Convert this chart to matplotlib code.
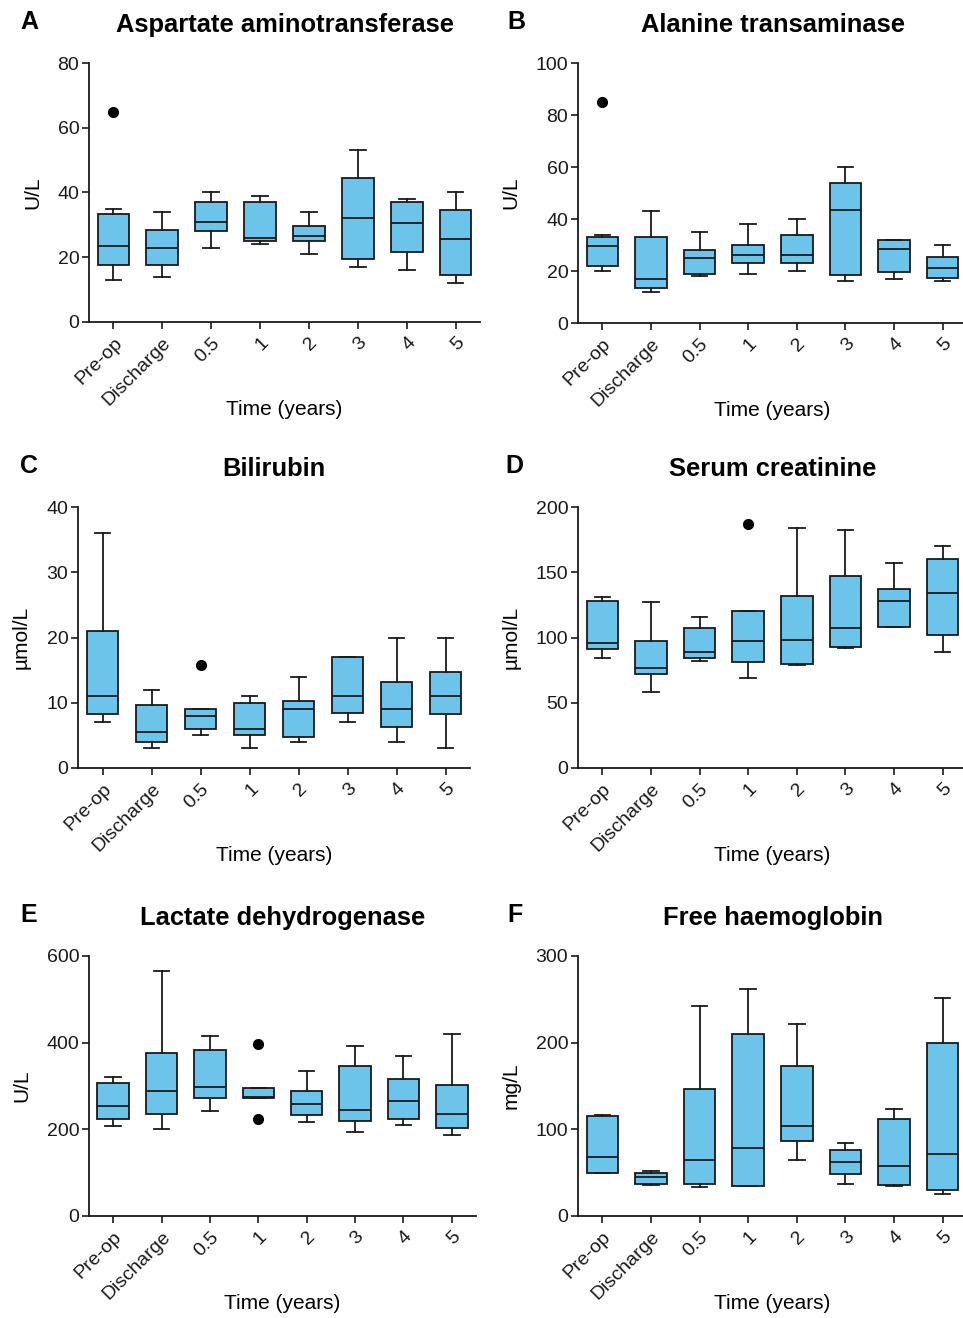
import matplotlib
matplotlib.use("Agg")
import matplotlib.pyplot as plt

plt.rcParams['font.family'] = ['Liberation Sans', 'DejaVu Sans']

categories = ["Pre-op", "Discharge", "0.5", "1", "2", "3", "4", "5"]

# box stats per panel: (whisker low, q1, median, q3, whisker high)
ast_stats = [(13, 17.5, 23.5, 33.5, 35), (14, 17.5, 23, 28.5, 34), (23, 28, 31, 37, 40),
             (24, 25, 26, 37, 39), (21, 25, 26.5, 29.5, 34), (17, 19.5, 32, 44.5, 53),
             (16, 21.5, 30.5, 37, 38), (12, 14.5, 25.5, 34.5, 40)]
ast_fliers = [[65], [], [], [], [], [], [], []]

alt_stats = [(20, 22, 29.5, 33, 34), (12, 13.5, 17, 33, 43), (18, 19, 25, 28, 35),
             (19, 23, 26, 30, 38), (20, 23, 26, 34, 40), (16, 18.5, 43.5, 54, 60),
             (17, 19.5, 28.5, 32, 32), (16, 17.5, 21, 25.5, 30)]
alt_fliers = [[85], [], [], [], [], [], [], []]

bili_stats = [(7, 8.3, 11, 21, 36), (3, 4, 5.5, 9.7, 12), (5, 6, 8, 9, 9),
              (3, 5, 6, 10, 11), (4, 4.8, 9, 10.2, 14), (7, 8.5, 11, 17, 17),
              (4, 6.3, 9, 13.2, 20), (3, 8.3, 11, 14.7, 20)]
bili_fliers = [[], [], [15.8], [], [], [], [], []]

creat_stats = [(84, 91, 96, 128, 131), (58, 72, 77, 97, 127), (82, 84, 89, 107, 116),
               (69, 81, 97, 120, 120), (79, 80, 98, 132, 184), (92, 93, 107, 147, 182),
               (108, 108, 128, 137, 157), (89, 102, 134, 160, 170)]
creat_fliers = [[], [], [], [187], [], [], [], []]

ldh_stats = [(207, 225, 253, 307, 320), (200, 235, 288, 377, 565), (243, 273, 298, 383, 416),
             (272, 272, 275, 296, 296), (217, 232, 258, 288, 335), (193, 220, 245, 347, 393),
             (210, 223, 265, 317, 370), (188, 203, 235, 303, 420)]
ldh_fliers = [[], [], [], [397, 225], [], [], [], []]

hb_stats = [(50, 50, 68, 115, 116), (36, 37, 45, 50, 52), (34, 37, 65, 147, 242),
            (35, 35, 79, 210, 262), (65, 87, 104, 173, 221), (37, 49, 62, 76, 84),
            (35, 36, 58, 112, 124), (25, 30, 72, 200, 251)]
hb_fliers = [[], [], [], [], [], [], [], []]

# letter, title, unit, stats, fliers, ymax, ystep, axes box in pixels, letter position
panels = [
    ("A", "Aspartate aminotransferase", "U/L", ast_stats, ast_fliers, 80, 20, (89, 480, 63, 322), (20, 22)),
    ("B", "Alanine transaminase", "U/L", alt_stats, alt_fliers, 100, 20, (578, 967, 63, 323), (507, 22)),
    ("C", "Bilirubin", "\u00b5mol/L", bili_stats, bili_fliers, 40, 10, (78, 470, 507, 768), (20, 466)),
    ("D", "Serum creatinine", "\u00b5mol/L", creat_stats, creat_fliers, 200, 50, (578, 967, 507, 768), (505, 466)),
    ("E", "Lactate dehydrogenase", "U/L", ldh_stats, ldh_fliers, 600, 200, (89, 476, 956, 1216), (20, 915)),
    ("F", "Free haemoglobin", "mg/L", hb_stats, hb_fliers, 300, 100, (578, 967, 956, 1216), (507, 915)),
]

W, H = 963, 1318
fig = plt.figure(figsize=(W / 100, H / 100), dpi=100)
fill = '#6cc4ea'
ink = '#1a1a1a'

for letter, title, unit, stats, fliers, ymax, ystep, (l, r, t, b), (lx, ly) in panels:
    ax = fig.add_axes([l / W, 1 - b / H, (r - l) / W, (b - t) / H])
    bstats = []
    for (lo, q1, med, q3, hi), fl in zip(stats, fliers):
        bstats.append(dict(whislo=lo, q1=q1, med=med, q3=q3, whishi=hi, fliers=fl))
    ax.bxp(bstats, positions=range(1, 9), widths=0.65, capwidths=0.32,
           patch_artist=True, manage_ticks=False,
           boxprops=dict(facecolor=fill, edgecolor=ink, linewidth=1.3),
           whiskerprops=dict(color=ink, linewidth=1.3),
           capprops=dict(color=ink, linewidth=1.3),
           medianprops=dict(color=ink, linewidth=1.3),
           flierprops=dict(marker='o', markerfacecolor='black', markeredgecolor='black',
                           markersize=7))
    ax.set_xlim(0.5, 8.5)
    ax.set_ylim(0, ymax)
    ax.set_yticks(range(0, ymax + 1, ystep))
    ax.set_xticks(range(1, 9))
    ax.set_xticklabels(categories, rotation=45, ha='right', rotation_mode='anchor', fontsize=14)
    ax.tick_params(axis='y', labelsize=14, length=5, width=1.2, colors=ink, pad=2)
    ax.tick_params(axis='x', length=5, width=1.2, colors=ink, pad=4)
    for s in ['top', 'right']:
        ax.spines[s].set_visible(False)
    for s in ['left', 'bottom']:
        ax.spines[s].set_linewidth(1.3)
        ax.spines[s].set_color(ink)
    ax.set_ylabel(unit, fontsize=15, labelpad=11)
    ax.set_xlabel("Time (years)", fontsize=15)
    ax.xaxis.set_label_coords(0.5, -0.30)
    ax.set_title(title, fontsize=18.4, fontweight='bold', pad=22)
    fig.text(lx / W, 1 - ly / H, letter, fontsize=18, fontweight='bold', va='center', ha='left')

fig.savefig("out.png", dpi=100)
